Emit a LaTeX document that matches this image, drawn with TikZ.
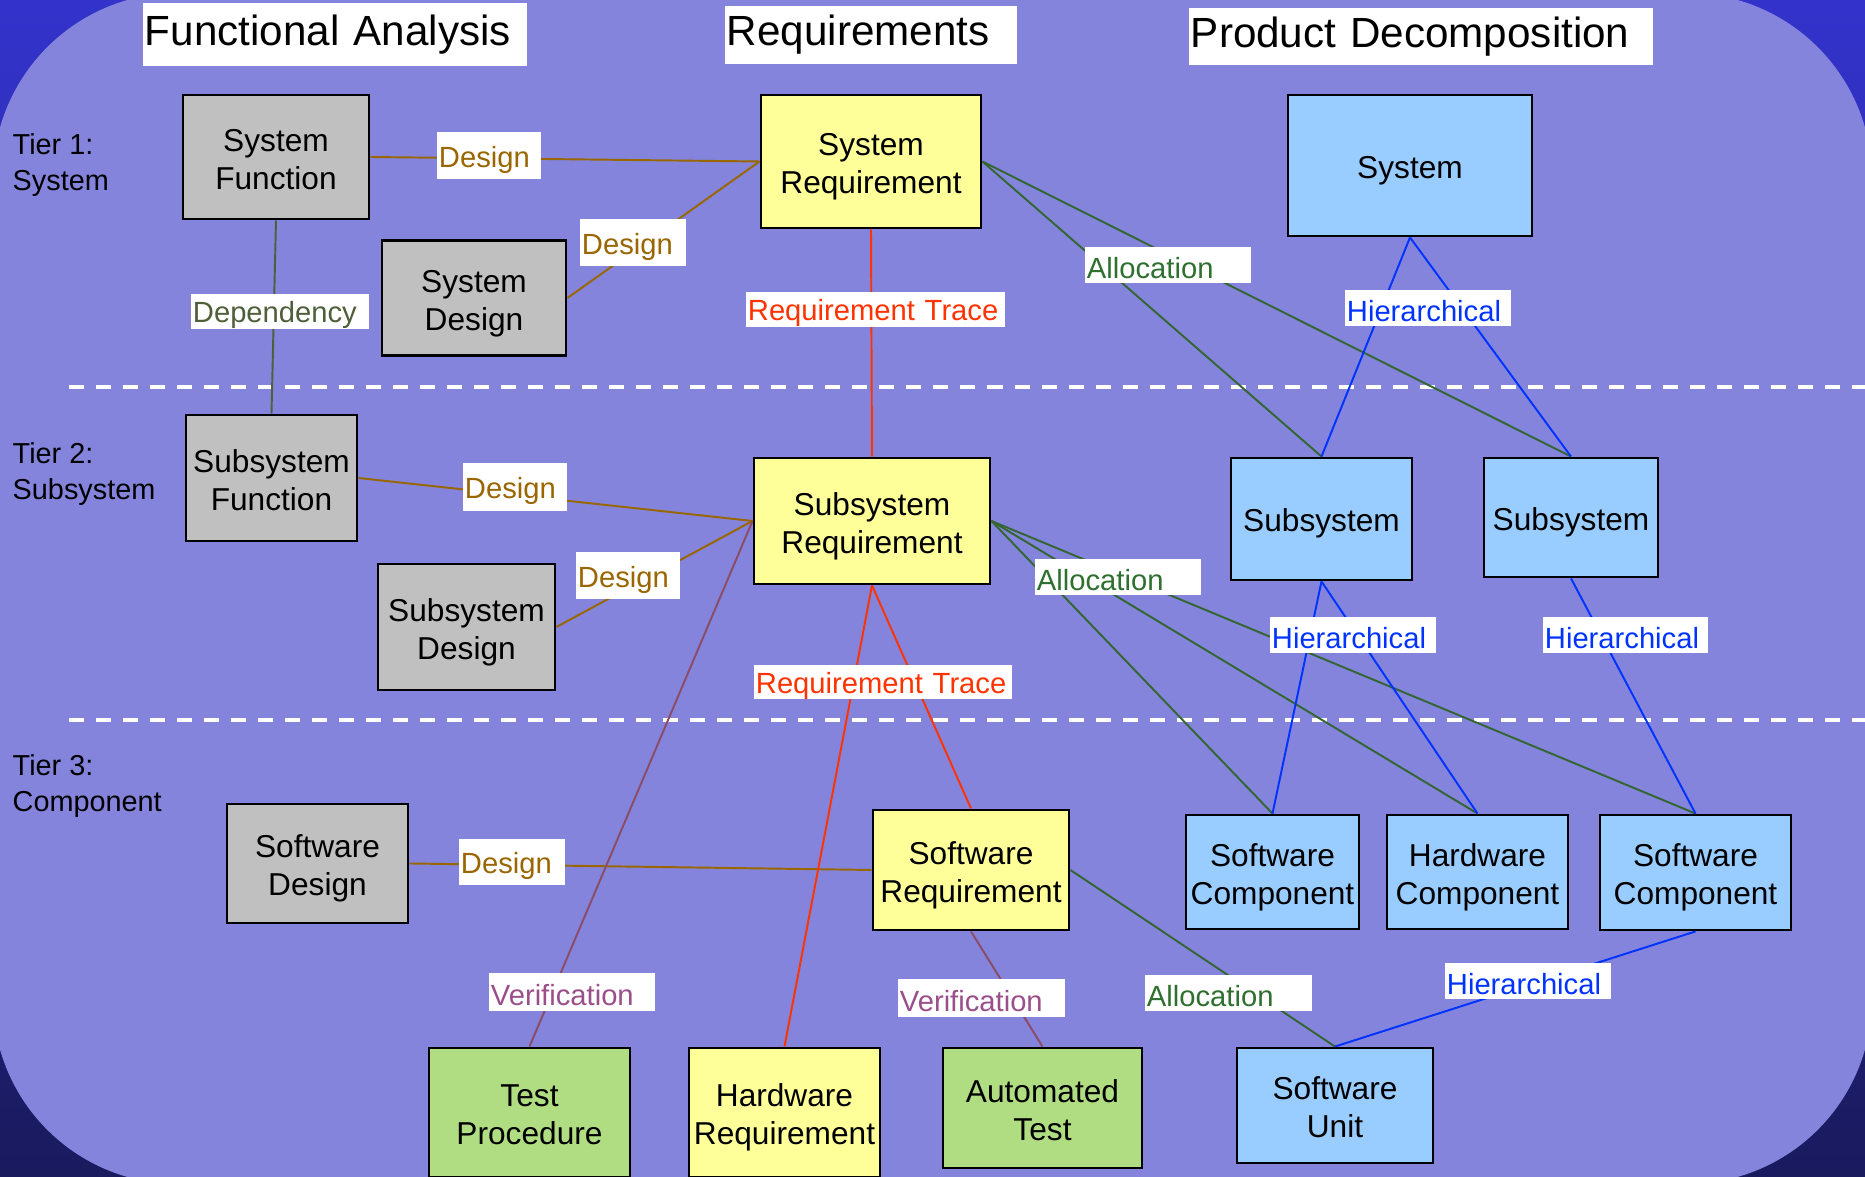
\documentclass[tikz,border=0pt]{standalone}
\usepackage{fontspec}
\setmainfont{Liberation Sans}

\definecolor{lavender}{HTML}{8484DC}
\definecolor{deepblue}{HTML}{3333CC}
\definecolor{navyblue}{HTML}{1A1A5E}
\definecolor{boxgray}{HTML}{C0C0C0}
\definecolor{boxyellow}{HTML}{FFFF99}
\definecolor{boxblue}{HTML}{99CCFF}
\definecolor{boxgreen}{HTML}{B0DD82}
\definecolor{designc}{HTML}{996600}
\definecolor{depc}{HTML}{4F5F3A}
\definecolor{tracec}{HTML}{FF3300}
\definecolor{allocc}{HTML}{336633}
\definecolor{alloctxt}{HTML}{2F6F2F}
\definecolor{hierc}{HTML}{0033FF}
\definecolor{verifc}{HTML}{8A4C66}
\definecolor{veriftxt}{HTML}{9A4F8A}

\tikzset{
  box/.style={draw=black, line width=0.8pt, inner sep=0pt, align=center,
    font=\fontsize{9}{10.8}\selectfont, text height=20.3pt, text depth=2pt},
  oneline/.style={text height=9.4pt},
  fa/.style={box, fill=boxgray},
  req/.style={box, fill=boxyellow},
  prod/.style={box, fill=boxblue},
  testbox/.style={box, fill=boxgreen},
  lbl/.style 2 args={fill=white, inner xsep=0.02cm, inner ysep=0pt,
    text width=#1, minimum height=#2, align=left,
    font=\fontsize{8.3}{10}\selectfont,
    execute at begin node={\rule{0pt}{8pt}}},
  ttl/.style 2 args={fill=white, inner xsep=0.02cm, inner ysep=0pt,
    text width=#1, minimum height=#2, align=left,
    font=\fontsize{12}{14}\selectfont},
  tier/.style={anchor=west, align=left, inner sep=0pt,
    font=\fontsize{8.2}{10.2}\selectfont},
  tierline/.style={white, line width=1.1pt, dash pattern=on 0.15cm off 0.12cm},
  link/.style={line width=0.55pt},
  designln/.style={link, draw=designc},
  depln/.style={link, draw=depc},
  traceln/.style={link, draw=tracec},
  allocln/.style={link, draw=allocc},
  hierln/.style={link, draw=hierc},
  verifln/.style={link, draw=verifc},
}

\begin{document}
\begin{tikzpicture}[x=0.01cm, y=-0.01cm]

    \useasboundingbox (0,0) rectangle (1865,1177);

    % backdrop
    \fill[top color=deepblue, bottom color=navyblue] (0,0) rectangle (1865,1177);
    \fill[lavender, rounded corners=1.85cm] (-7,-7) rectangle (1872,1184);

    % column headings
    \node[ttl={3.80cm}{0.63cm}] (hfa) at (335,34.5) {Functional Analysis};
    \node[ttl={2.88cm}{0.58cm}] (hreq) at (871,35) {Requirements};
    \node[ttl={4.60cm}{0.57cm}] (hpd) at (1421,36.5) {Product Decomposition};

    % tiers
    \node[tier] (t1) at (12,165) {Tier 1:\\System};
    \node[tier] (t2) at (12,474) {Tier 2:\\Subsystem};
    \node[tier] (t3) at (12,786) {Tier 3:\\Component};
    \draw[tierline] (69,387) -- (1865,387);
    \draw[tierline] (69,720) -- (1865,720);

    % functional analysis
    \node[fa, minimum width=1.86cm, minimum height=1.24cm] (sysfn) at (276,157) {System\\Function};
    \node[fa, minimum width=1.84cm, minimum height=1.15cm] (sysdes) at (474,298) {System\\Design};
    \node[fa, minimum width=1.71cm, minimum height=1.26cm] (subfn) at (271.5,478) {Subsystem\\Function};
    \node[fa, minimum width=1.77cm, minimum height=1.26cm] (subdes) at (466.5,627) {Subsystem\\Design};
    \node[fa, minimum width=1.81cm, minimum height=1.19cm] (swdes) at (317.5,863.5) {Software\\Design};

    % requirements
    \node[req, minimum width=2.20cm, minimum height=1.33cm] (sysreq) at (871,161.5) {System\\Requirement};
    \node[req, minimum width=2.36cm, minimum height=1.26cm] (subreq) at (872,521) {Subsystem\\Requirement};
    \node[req, minimum width=1.96cm, minimum height=1.20cm] (swreq) at (971,870) {Software\\Requirement};
    \node[req, minimum width=1.91cm, minimum height=1.29cm] (hwreq) at (784.5,1112.5) {Hardware\\Requirement};
    \node[testbox, minimum width=2.01cm, minimum height=1.29cm] (testproc) at (529.5,1112.5) {Test\\Procedure};
    \node[testbox, minimum width=1.99cm, minimum height=1.20cm] (autotest) at (1042.5,1108) {Automated\\Test};

    % product decomposition
    \node[prod, oneline, minimum width=2.44cm, minimum height=1.41cm] (sys) at (1410,165.5) {System};
    \node[prod, oneline, minimum width=1.81cm, minimum height=1.22cm] (subA) at (1321.5,519) {Subsystem};
    \node[prod, oneline, minimum width=1.74cm, minimum height=1.19cm] (subB) at (1571,517.5) {Subsystem};
    \node[prod, minimum width=1.73cm, minimum height=1.14cm] (swcompA) at (1272.5,872) {Software\\Component};
    \node[prod, minimum width=1.81cm, minimum height=1.14cm] (hwcomp) at (1477.5,872) {Hardware\\Component};
    \node[prod, minimum width=1.91cm, minimum height=1.15cm] (swcompB) at (1695.5,872.5) {Software\\Component};
    \node[prod, minimum width=1.96cm, minimum height=1.15cm] (swunit) at (1335,1105.5) {Software\\Unit};

    % links
    \foreach \a/\b in {sysfn.east/sysreq.west, sysdes.east/sysreq.west,
        subfn.east/subreq.west, subdes.east/subreq.west, swdes.east/swreq.west}
        \draw[designln] (\a) -- (\b);
    \draw[depln] (sysfn.south) -- (subfn.north);
    \foreach \a/\b in {sysreq.south/subreq.north, subreq.south/hwreq.north,
        subreq.south/swreq.north}
        \draw[traceln] (\a) -- (\b);
    \foreach \a/\b in {sysreq.east/subA.north, sysreq.east/subB.north,
        subreq.east/swcompA.north, subreq.east/hwcomp.north,
        subreq.east/swcompB.north, swreq.east/swunit.north}
        \draw[allocln] (\a) -- (\b);
    \foreach \a/\b in {sys.south/subA.north, sys.south/subB.north,
        subA.south/swcompA.north, subA.south/hwcomp.north,
        subB.south/swcompB.north, swcompB.south/swunit.north}
        \draw[hierln] (\a) -- (\b);
    \foreach \a/\b in {subreq.west/testproc.north, swreq.south/autotest.north}
        \draw[verifln] (\a) -- (\b);

    % link labels
    \node[lbl={1.00cm}{0.47cm}, text=designc] (dsA) at (489,156) {Design};
    \node[lbl={1.02cm}{0.47cm}, text=designc] (dsB) at (633,243) {Design};
    \node[lbl={1.00cm}{0.48cm}, text=designc] (dsC) at (515,487.5) {Design};
    \node[lbl={1.00cm}{0.47cm}, text=designc] (dsD) at (628,576) {Design};
    \node[lbl={1.02cm}{0.46cm}, text=designc] (dsE) at (512,862.5) {Design};
    \node[lbl={1.74cm}{0.33cm}, text=depc] (dep) at (280,311.5) {Dependency};
    \node[lbl={2.55cm}{0.33cm}, text=tracec] (rtA) at (875.5,309.5) {Requirement Trace};
    \node[lbl={2.54cm}{0.34cm}, text=tracec] (rtB) at (883,682) {Requirement Trace};
    \node[lbl={1.62cm}{0.36cm}, text=alloctxt] (alA) at (1168,265) {Allocation};
    \node[lbl={1.62cm}{0.36cm}, text=alloctxt] (alB) at (1118,577) {Allocation};
    \node[lbl={1.63cm}{0.36cm}, text=alloctxt] (alC) at (1228.5,993) {Allocation};
    \node[lbl={1.62cm}{0.36cm}, text=hierc] (hiA) at (1428,308) {Hierarchical};
    \node[lbl={1.62cm}{0.36cm}, text=hierc] (hiB) at (1353,635) {Hierarchical};
    \node[lbl={1.61cm}{0.36cm}, text=hierc] (hiC) at (1625.5,635) {Hierarchical};
    \node[lbl={1.62cm}{0.36cm}, text=hierc] (hiD) at (1528,981) {Hierarchical};
    \node[lbl={1.62cm}{0.38cm}, text=veriftxt] (vfA) at (572,992) {Verification};
    \node[lbl={1.63cm}{0.38cm}, text=veriftxt] (vfB) at (981.5,998) {Verification};

\end{tikzpicture}
\end{document}
